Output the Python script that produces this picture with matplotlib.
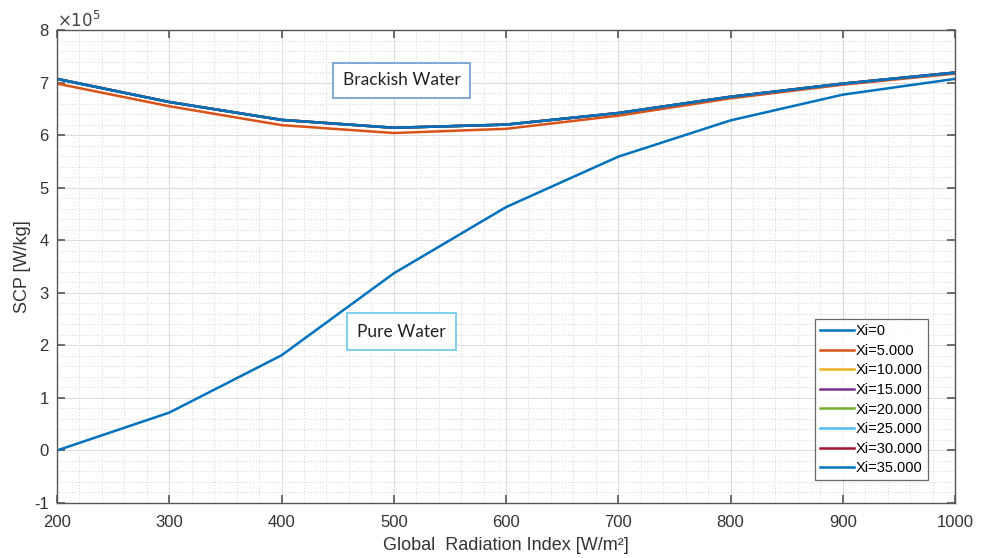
import numpy as np
import matplotlib.pyplot as plt
from matplotlib.ticker import MultipleLocator, FuncFormatter

#------------------------------------------------------------
# SCP vs global radiation for several salinities (values in 1e5 W/kg)
radiation = [200, 300, 400, 500, 600, 700, 800, 900, 1000]

scp_xi0 = [0.00, 0.72, 1.81, 3.37, 4.63, 5.59, 6.28, 6.77, 7.07]
scp_xi5 = [6.98, 6.55, 6.19, 6.04, 6.12, 6.37, 6.70, 6.96, 7.17]
scp_xi10 = [7.07, 6.63, 6.29, 6.14, 6.20, 6.42, 6.73, 6.98, 7.19]
scp_xi15 = [7.07, 6.63, 6.29, 6.14, 6.20, 6.42, 6.73, 6.98, 7.19]
scp_xi20 = [7.07, 6.63, 6.29, 6.14, 6.20, 6.42, 6.73, 6.98, 7.19]
scp_xi25 = [7.07, 6.63, 6.29, 6.14, 6.20, 6.42, 6.73, 6.98, 7.19]
scp_xi30 = [7.07, 6.63, 6.29, 6.14, 6.20, 6.42, 6.73, 6.98, 7.19]
scp_xi35 = [7.07, 6.63, 6.29, 6.14, 6.20, 6.42, 6.73, 6.98, 7.19]

labels = ['Xi=0', 'Xi=5.000', 'Xi=10.000', 'Xi=15.000',
          'Xi=20.000', 'Xi=25.000', 'Xi=30.000', 'Xi=35.000']
series = [scp_xi0, scp_xi5, scp_xi10, scp_xi15,
          scp_xi20, scp_xi25, scp_xi30, scp_xi35]

# default matlab line order
colors = ['#0072BD', '#D95319', '#EDB120', '#7E2F8E',
          '#77AC30', '#4DBEEE', '#A2142F', '#0072BD']

plt.rcParams['font.family'] = ['Liberation Sans', 'DejaVu Sans']
plt.rcParams['axes.unicode_minus'] = False

fig = plt.figure(figsize=(9.87, 5.58), dpi=100)
ax = fig.add_axes([0.0578, 0.0986, 0.9098, 0.8476])

x = np.array(radiation)
for vals, lab, c in zip(series, labels, colors):
    ax.plot(x, np.array(vals) * 1e5, color=c, lw=1.8, label=lab)

ax.set_xlim(200, 1000)
ax.set_ylim(-1e5, 8e5)
ax.xaxis.set_major_locator(MultipleLocator(100))
ax.xaxis.set_minor_locator(MultipleLocator(20))
ax.yaxis.set_major_locator(MultipleLocator(1e5))
ax.yaxis.set_minor_locator(MultipleLocator(0.2e5))
ax.yaxis.set_major_formatter(FuncFormatter(lambda v, p: '%d' % round(v / 1e5)))

# exponent label above the y axis
ax.text(0.0, 1.0, r'$\times10^5$', transform=ax.transAxes, fontsize=12,
        color='#444444', ha='left', va='bottom')

ax.grid(True, which='major', color='#dcdcdc', lw=0.8)
ax.grid(True, which='minor', color='#d4d4d4', lw=0.7, ls=(0, (1, 2)))
ax.set_axisbelow(True)

ax.tick_params(which='major', direction='in', length=6, width=1.2,
               color='#555555', labelsize=12, labelcolor='#333333',
               top=True, right=True)
ax.tick_params(axis='x', which='major', pad=9)
ax.tick_params(axis='y', which='major', pad=6)
ax.tick_params(which='minor', length=0)
for sp in ax.spines.values():
    sp.set_color('#555555')
    sp.set_linewidth(1.0)

ax.set_xlabel('Global  Radiation Index [W/m\u00b2]', fontsize=13,
              color='#333333', labelpad=5)
ax.set_ylabel('SCP [W/kg]', fontsize=13, color='#333333', labelpad=2)

#----
# text boxes
ax.text(507, 7.04e5, 'Brackish Water', fontsize=12.5, family='Lato',
        color='#222222', ha='center', va='center',
        bbox=dict(boxstyle='square,pad=0.55', fc='white', ec='#7fa9d9', lw=1.4))
ax.text(507, 2.26e5, 'Pure Water', fontsize=12.5, family='Lato',
        color='#222222', ha='center', va='center',
        bbox=dict(boxstyle='square,pad=0.6', fc='white', ec='#7fd0ee', lw=1.4))

leg = ax.legend(loc='lower right', bbox_to_anchor=(0.97, 0.048),
                borderaxespad=0, fontsize=10.5, frameon=True, fancybox=False,
                handlelength=2.3, handletextpad=0.15, labelspacing=0.38,
                borderpad=0.35)
leg.get_frame().set_edgecolor('#444444')
leg.get_frame().set_linewidth(0.9)

plt.savefig('out.png', dpi=100)
